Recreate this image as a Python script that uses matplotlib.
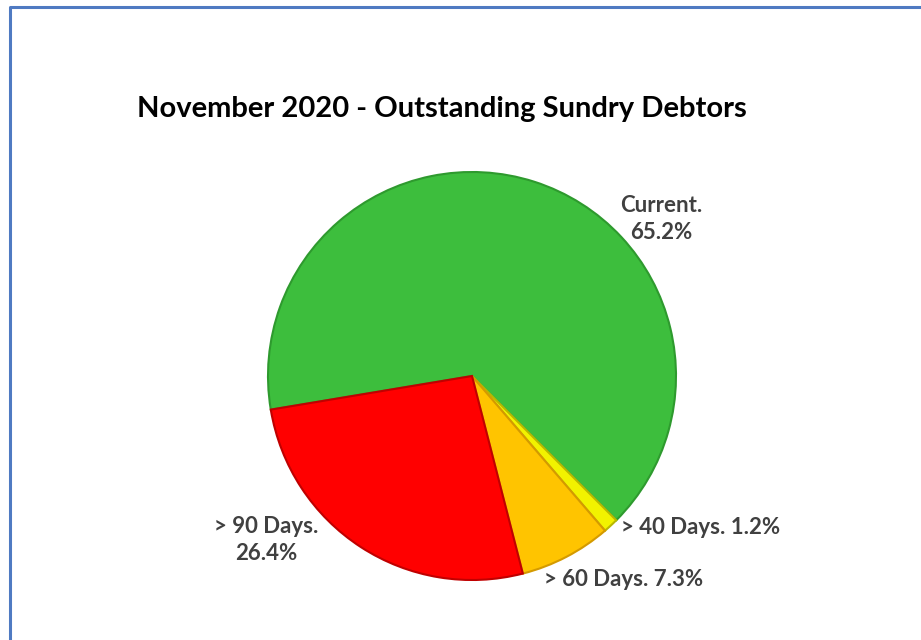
import matplotlib
matplotlib.use("Agg")
import matplotlib.pyplot as plt
import numpy as np

title = "November 2020 - Outstanding Sundry Debtors"
categories = ["Current.", "> 40 Days.", "> 60 Days.", "> 90 Days."]
values = [65.2, 1.2, 7.3, 26.4]
colors = ["#3DBE3D", "#F2F200", "#FFC400", "#FF0000"]
edges = ["#2E9A2E", "#B8B800", "#D49A00", "#C00000"]

W, H = 921, 640
fig = plt.figure(figsize=(W / 100, H / 100), dpi=100)
ax = fig.add_axes([0, 0, 1, 1])
ax.set_xlim(0, W)
ax.set_ylim(0, H)
ax.set_aspect("equal")
ax.axis("off")

# border (left and top edges visible)
ax.plot([9.5, 9.5, W], [0, H - 7, H - 7], color="#4F7AC2", lw=2.2, solid_capstyle="butt")

cx, cy, r = 472, H - 376, 204
total = sum(values)
start = 90 - (135 - values[0] / total * 360)
wedges, _ = ax.pie(values, colors=colors, startangle=start, counterclock=False,
                   center=(cx, cy), radius=r, frame=True,
                   wedgeprops=dict(linewidth=1.5))
for w, e in zip(wedges, edges):
    w.set_edgecolor(e)
ax.set_xlim(0, W)
ax.set_ylim(0, H)
ax.axis("off")

font = dict(family="Lato", weight="bold", color="#404040")
fs = 16
labels = [f"{c}\n{v}%" for c, v in zip(categories, values)]
ax.text(661, H - 219, labels[0], ha="center", va="center", fontsize=fs, linespacing=1.3, **font)
ax.text(621, H - 528, f"{categories[1]} {values[1]}%", ha="left", va="center", fontsize=fs, **font)
ax.text(544, H - 580, f"{categories[2]} {values[2]}%", ha="left", va="center", fontsize=fs, **font)
ax.text(266, H - 540, labels[3], ha="center", va="center", fontsize=fs, linespacing=1.3, **font)

ax.text(442, H - 109, title, ha="center", va="center", fontsize=21, family="Lato",
        weight="bold", color="black")

fig.savefig("out.png", dpi=100)
